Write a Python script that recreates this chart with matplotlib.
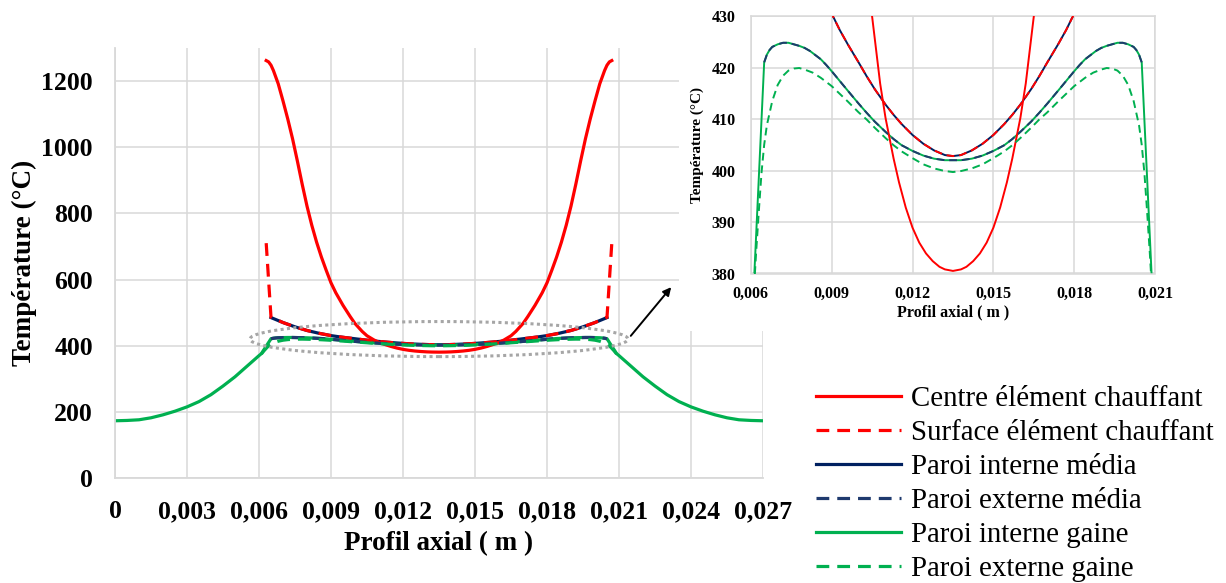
import matplotlib
matplotlib.use("Agg")
import matplotlib.pyplot as plt
from matplotlib.patches import Ellipse, Rectangle, FancyArrowPatch
from matplotlib.ticker import FixedLocator, FuncFormatter

# ---------------- data ----------------
x_centre = [0.0063, 0.0064, 0.0065, 0.0066, 0.0068, 0.007, 0.0072, 0.0074, 0.0076, 0.0078,
            0.008, 0.0082, 0.0084, 0.0086, 0.0088, 0.009, 0.0092, 0.0095, 0.0098, 0.01,
            0.0103, 0.0105, 0.0108, 0.011, 0.0113, 0.0115, 0.01175, 0.012, 0.01225, 0.0125,
            0.01275, 0.013, 0.0132, 0.0135,
            0.0138, 0.014, 0.01425, 0.0145, 0.01475, 0.015, 0.01525, 0.0155, 0.0157, 0.016,
            0.0162, 0.0165, 0.0167, 0.017, 0.0172, 0.0175, 0.0178, 0.018, 0.0182, 0.0184,
            0.0186, 0.0188, 0.019, 0.0192, 0.0194, 0.0196, 0.0198, 0.02, 0.0202, 0.0204,
            0.0205, 0.0206, 0.0207]
t_centre = [1262, 1258, 1248, 1232, 1192, 1140, 1085, 1025, 958, 888,
            822, 764, 713, 668, 628, 590, 560, 522, 488, 467,
            443, 430, 416.9, 410.2, 402.3, 397.7, 392.8, 388.9, 386.0, 383.9,
            382.4, 381.3, 380.8, 380.5,
            380.8, 381.3, 382.4, 383.9, 386.0, 388.9, 392.8, 397.7, 402.3, 410.2,
            416.9, 430, 443, 467, 488, 522, 560, 590, 628, 668,
            713, 764, 822, 888, 958, 1025, 1085, 1140, 1192, 1232,
            1248, 1258, 1262]

x_surface = [0.0063, 0.0065, 0.007, 0.0075, 0.008, 0.0085, 0.009, 0.0093, 0.0096, 0.01,
             0.0103, 0.0106, 0.011, 0.0113, 0.0116, 0.012, 0.0124, 0.0128, 0.0132, 0.0135,
             0.0138, 0.0142, 0.0146, 0.015, 0.0154, 0.0157, 0.016, 0.0164, 0.0167, 0.017,
             0.0174, 0.0177, 0.018, 0.0185, 0.019, 0.0195, 0.02, 0.0205, 0.0207]
t_surface = [710, 486, 470, 457, 446, 437.5, 430.5, 427.3, 424.5, 421,
             418.3, 415.8, 412.8, 410.8, 409, 406.9, 405.2, 403.9, 403.0, 402.8,
             403.0, 403.9, 405.2, 406.9, 409, 410.8, 412.8, 415.8, 418.3, 421,
             424.5, 427.3, 430.5, 437.5, 446, 457, 470, 486, 710]

x_media_int = [0.0065, 0.007, 0.0075, 0.008, 0.0085, 0.009, 0.0093, 0.0096, 0.01,
               0.0103, 0.0106, 0.011, 0.0113, 0.0116, 0.012, 0.0124, 0.0128, 0.0132, 0.0135,
               0.0138, 0.0142, 0.0146, 0.015, 0.0154, 0.0157, 0.016, 0.0164, 0.0167, 0.017,
               0.0174, 0.0177, 0.018, 0.0185, 0.019, 0.0195, 0.02, 0.0205]
t_media_int = [485, 470, 457, 446, 437.5, 430.5, 427.3, 424.5, 421,
               418.3, 415.8, 412.8, 410.8, 409, 406.9, 405.2, 403.9, 403.0, 402.8,
               403.0, 403.9, 405.2, 406.9, 409, 410.8, 412.8, 415.8, 418.3, 421,
               424.5, 427.3, 430.5, 437.5, 446, 457, 470, 485]

x_media_ext = [0.0065, 0.0066, 0.0067, 0.0068, 0.007, 0.0072, 0.0074, 0.0076, 0.0078, 0.008,
               0.0082, 0.0084, 0.0086, 0.0088, 0.009, 0.0093, 0.0096, 0.01, 0.0103, 0.0106,
               0.011, 0.0113, 0.0116, 0.012, 0.0124, 0.0128, 0.0132, 0.0135,
               0.0138, 0.0142, 0.0146, 0.015, 0.0154, 0.0157, 0.016, 0.0164, 0.0167, 0.017,
               0.0174, 0.0177, 0.018, 0.0182, 0.0184, 0.0186, 0.0188, 0.019, 0.0192, 0.0194,
               0.0196, 0.0198, 0.02, 0.0202, 0.0203, 0.0204, 0.0205]
t_media_ext = [421, 422.5, 423.4, 424, 424.5, 424.8, 424.8, 424.5, 424.2, 423.8,
               423.2, 422.4, 421.6, 420.5, 419.3, 417.4, 415.5, 413.0, 411.2, 409.5,
               407.5, 406.1, 404.9, 403.8, 402.9, 402.3, 402.0, 402.0,
               402.0, 402.3, 402.9, 403.8, 404.9, 406.1, 407.5, 409.5, 411.2, 413.0,
               415.5, 417.4, 419.3, 420.5, 421.6, 422.4, 423.2, 423.8, 424.2, 424.5,
               424.8, 424.8, 424.5, 424, 423.4, 422.5, 421]

x_gaine_int = [0, 0.0005, 0.001, 0.0015, 0.002, 0.0025, 0.003, 0.0035, 0.004, 0.0045,
               0.005, 0.0055, 0.006, 0.0061,
               0.0065, 0.0066, 0.0067, 0.0068, 0.007, 0.0072, 0.0074, 0.0076, 0.0078, 0.008,
               0.0082, 0.0084, 0.0086, 0.0088, 0.009, 0.0093, 0.0096, 0.01, 0.0103, 0.0106,
               0.011, 0.0113, 0.0116, 0.012, 0.0124, 0.0128, 0.0132, 0.0135,
               0.0138, 0.0142, 0.0146, 0.015, 0.0154, 0.0157, 0.016, 0.0164, 0.0167, 0.017,
               0.0174, 0.0177, 0.018, 0.0182, 0.0184, 0.0186, 0.0188, 0.019, 0.0192, 0.0194,
               0.0196, 0.0198, 0.02, 0.0202, 0.0203, 0.0204, 0.0205,
               0.0209, 0.021, 0.0215, 0.022, 0.0225, 0.023, 0.0235, 0.024, 0.0245, 0.025,
               0.0255, 0.026, 0.0265, 0.027]
t_gaine_int = [173, 174, 176, 182, 191, 202, 215, 231, 252, 278,
               306, 338, 370, 376,
               421, 422.5, 423.4, 424, 424.5, 424.8, 424.8, 424.5, 424.2, 423.8,
               423.2, 422.4, 421.6, 420.5, 419.3, 417.4, 415.5, 413.0, 411.2, 409.5,
               407.5, 406.1, 404.9, 403.8, 402.9, 402.3, 402.0, 402.0,
               402.0, 402.3, 402.9, 403.8, 404.9, 406.1, 407.5, 409.5, 411.2, 413.0,
               415.5, 417.4, 419.3, 420.5, 421.6, 422.4, 423.2, 423.8, 424.2, 424.5,
               424.8, 424.8, 424.5, 424, 423.4, 422.5, 421,
               376, 370, 338, 306, 278, 252, 231, 215, 202, 191,
               182, 176, 174, 173]

x_gaine_ext = [0.0061, 0.0062, 0.0063, 0.0064, 0.0065, 0.0066, 0.0068, 0.007, 0.0072, 0.0074,
               0.0076, 0.0078, 0.008, 0.0083, 0.0086, 0.009, 0.0093, 0.0096, 0.01, 0.0103,
               0.0106, 0.011, 0.0113, 0.0116, 0.012, 0.0124, 0.0128, 0.0132, 0.0135,
               0.0138, 0.0142, 0.0146, 0.015, 0.0154, 0.0157, 0.016, 0.0164, 0.0167, 0.017,
               0.0174, 0.0177, 0.018, 0.0184, 0.0187, 0.019, 0.0192, 0.0194, 0.0196, 0.0198,
               0.02, 0.0202, 0.0204, 0.0205, 0.0206, 0.0207, 0.0208, 0.0209]
t_gaine_ext = [375, 384, 392, 399.5, 405, 408.8, 413.5, 416.6, 418.4, 419.4,
               419.8, 419.9, 419.6, 419, 418, 416.4, 414.9, 413.4, 411.3, 409.9,
               408.3, 406.3, 404.9, 403.7, 402.4, 401.2, 400.4, 399.9, 399.7,
               399.9, 400.4, 401.2, 402.4, 403.7, 404.9, 406.3, 408.3, 409.9, 411.3,
               413.4, 414.9, 416.4, 418, 419, 419.6, 419.9, 419.8, 419.4, 418.4,
               416.6, 413.5, 408.8, 405, 399.5, 392, 384, 375]

labels = ["Centre élément chauffant", "Surface élément chauffant",
          "Paroi interne média", "Paroi externe média",
          "Paroi interne gaine", "Paroi externe gaine"]

main_xticks = [0, 0.003, 0.006, 0.009, 0.012, 0.015, 0.018, 0.021, 0.024, 0.027]
main_yticks = [0, 200, 400, 600, 800, 1000, 1200]
inset_xticks = [0.006, 0.009, 0.012, 0.015, 0.018, 0.021]
inset_yticks = [380, 390, 400, 410, 420, 430]

# ---------------- styling ----------------
RED = "#ff0000"
NAVY = "#002060"
NAVY2 = "#1f3a6e"
GREEN = "#00b050"
GRID = "#d9d9d9"
SERIF = "Liberation Serif"

W, H = 1226, 583
fig = plt.figure(figsize=(W / 100, H / 100), dpi=100)


def comma_fmt(v, pos):
    if abs(v) < 1e-12:
        return "0"
    s = ("%.3f" % v) if v < 1 else ("%g" % v)
    return s.replace(".", ",")


series = [
    (x_centre, t_centre, RED, "-", 3),
    (x_surface, t_surface, RED, "--", 4),
    (x_media_int, t_media_int, NAVY, "-", 2),
    (x_media_ext, t_media_ext, NAVY2, "--", 4),
    (x_gaine_int, t_gaine_int, GREEN, "-", 2),
    (x_gaine_ext, t_gaine_ext, GREEN, "--", 4),
]


def draw(ax, lw, dash):
    handles = []
    for (xs, ts, c, ls, z), lab in zip(series, labels):
        style_ = (0, dash) if ls == "--" else "-"
        (ln,) = ax.plot(xs, ts, color=c, lw=lw, linestyle=style_, zorder=z, label=lab,
                        solid_joinstyle="round")
        handles.append(ln)
    return handles


def style(ax, xt, yt, size, padx, pady):
    ax.xaxis.set_major_locator(FixedLocator(xt))
    ax.yaxis.set_major_locator(FixedLocator(yt))
    ax.xaxis.set_major_formatter(FuncFormatter(comma_fmt))
    ax.yaxis.set_major_formatter(FuncFormatter(lambda v, p: "%d" % v))
    ax.grid(True, color=GRID, lw=1.1, zorder=0)
    ax.set_axisbelow(True)
    ax.tick_params(axis="both", length=0, labelsize=size)
    ax.tick_params(axis="x", pad=padx)
    ax.tick_params(axis="y", pad=pady)
    for lab in ax.get_xticklabels() + ax.get_yticklabels():
        lab.set_fontfamily(SERIF)
        lab.set_fontweight("bold")


# ---------------- main axes ----------------
ax = fig.add_axes([115 / W, 1 - 478 / H, 648 / W, 430 / H])
handles = draw(ax, 2.3, (4, 2.5))
ax.set_xlim(0, 0.027)
ax.set_ylim(0, 1300)
style(ax, main_xticks, main_yticks, 18.5, 16, 16)
for s in ["top", "right"]:
    ax.spines[s].set_visible(False)
for s in ["left", "bottom"]:
    ax.spines[s].set_color(GRID)
    ax.spines[s].set_linewidth(1.3)
ax.set_xlabel("Profil axial ( m )", fontfamily=SERIF, fontweight="bold", fontsize=19.5, labelpad=6)
ax.set_ylabel("Température (°C)", fontfamily=SERIF, fontweight="bold", fontsize=19.5, labelpad=3)

ell = Ellipse((0.0135, 420), 0.01575, 106, fill=False, ec="#a6a6a6", lw=2.2,
              linestyle=(0, (1, 1.1)), zorder=6, clip_on=False)
ax.add_patch(ell)

# white panel behind inset
fig.add_artist(Rectangle((679 / W, 1 - 331 / H), (W - 679) / W, 331 / H,
                         transform=fig.transFigure, fc="white", ec="none", zorder=1))

# arrow
fig.add_artist(FancyArrowPatch((629 / W, 1 - 338 / H), (673 / W, 1 - 285 / H),
                               transform=fig.transFigure, arrowstyle="-|>",
                               mutation_scale=12, color="black", lw=1.4, zorder=3))

# ---------------- inset ----------------
axi = fig.add_axes([750.7 / W, 1 - 273.5 / H, 404.5 / W, 257.5 / H])
axi.set_zorder(2)
axi.set_facecolor("white")
draw(axi, 1.4, (4, 2.5))
axi.set_xlim(0.006, 0.021)
axi.set_ylim(380, 430)
style(axi, inset_xticks, inset_yticks, 11.5, 9, 11)
for s in axi.spines.values():
    s.set_color(GRID)
    s.set_linewidth(1.1)
axi.set_xlabel("Profil axial ( m )", fontfamily=SERIF, fontweight="bold", fontsize=11.5, labelpad=2)
axi.set_ylabel("Température (°C)", fontfamily=SERIF, fontweight="bold", fontsize=11, labelpad=5)

# ---------------- legend ----------------
fig.legend(handles, labels, loc="upper left", bbox_to_anchor=(816 / W, 1 - 386 / H),
           frameon=False, prop={"family": SERIF, "size": 20.8},
           handlelength=2.95, handletextpad=0.34, labelspacing=0.27,
           borderaxespad=0, borderpad=0)

fig.savefig("out.png", dpi=100)
